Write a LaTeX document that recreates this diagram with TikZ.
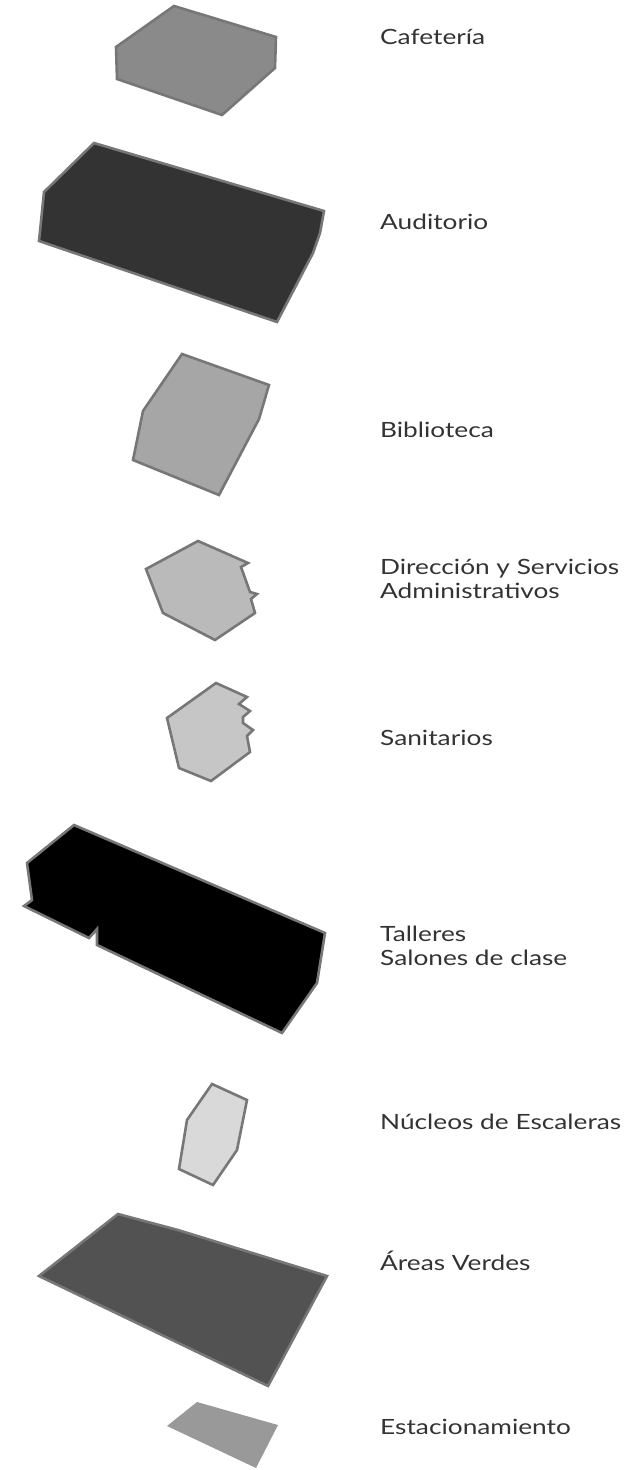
\documentclass[tikz,border=0pt]{standalone}
\usepackage{fontspec}
\setmainfont[FakeStretch=1.25]{Lato}
\definecolor{edge}{HTML}{777777}
\definecolor{txt}{HTML}{333333}
\definecolor{fcaf}{HTML}{8A8A8A}
\definecolor{faud}{HTML}{333333}
\definecolor{fbib}{HTML}{A6A6A6}
\definecolor{fdir}{HTML}{BABABA}
\definecolor{fsan}{HTML}{C6C6C6}
\definecolor{ftal}{HTML}{000000}
\definecolor{fnuc}{HTML}{D9D9D9}
\definecolor{fver}{HTML}{525252}
\definecolor{fest}{HTML}{999999}
\begin{document}
\begin{tikzpicture}[x=1pt,y=-1pt,
  blk/.style={draw=edge, line width=2.6pt, line join=miter},
  lbl/.style={anchor=west, align=left, font=\fontsize{21}{24}\selectfont, text=txt, inner sep=0pt}]
\useasboundingbox (0,0) rectangle (634,1470);
% Cafeteria
\filldraw[blk, fill=fcaf] (116,47) -- (174,6) -- (276,37) -- (275,68) -- (222,115) -- (117,79) -- cycle;
% Auditorio
\filldraw[blk, fill=faud] (94,143) -- (324,211) -- (320,233) -- (313,253) -- (277,322) -- (39,241) -- (44,192) -- cycle;
% Biblioteca
\filldraw[blk, fill=fbib] (182,354) -- (269,385) -- (259,419) -- (219,495) -- (133,460) -- (143,411) -- cycle;
% Direccion
\filldraw[blk, fill=fdir] (146,569) -- (198,541) -- (248,563) -- (241,567) -- (250,592) -- (257,594) -- (251,599) -- (255,613) -- (215,640) -- (163,613) -- cycle;
% Sanitarios
\filldraw[blk, fill=fsan] (167,718) -- (216,683) -- (247,697) -- (239,704) -- (250,711) -- (243,717) -- (243,723) -- (253,730) -- (247,736) -- (250,752) -- (211,781) -- (179,768) -- cycle;
% Talleres
\filldraw[blk, fill=ftal] (74,825) -- (325,933) -- (317,983) -- (282,1033) -- (97,945) -- (97,929) -- (89,938) -- (24,906) -- (32,900) -- (27,863) -- cycle;
% Nucleos
\filldraw[blk, fill=fnuc] (212,1084) -- (247,1100) -- (237,1150) -- (213,1185) -- (179,1169) -- (187,1120) -- cycle;
% Areas verdes
\filldraw[blk, fill=fver] (118,1214) -- (178,1230) -- (327,1276) -- (268,1386) -- (39,1276) -- cycle;
% Estacionamiento
\fill[fest] (197,1402) -- (278,1425) -- (256,1468) -- (167,1426) -- cycle;
% Labels
\node[lbl] (lcaf) at (380,37) {Cafetería};
\node[lbl] (laud) at (380,222) {Auditorio};
\node[lbl] (lbib) at (380,430) {Biblioteca};
\node[lbl] (ldir) at (380,579) {Dirección y Servicios\\Administrativos};
\node[lbl] (lsan) at (380,738) {Sanitarios};
\node[lbl] (ltal) at (380,946) {Talleres\\Salones de clase};
\node[lbl] (lnuc) at (380,1122) {Núcleos de Escaleras};
\node[lbl] (lver) at (380,1261) {Áreas Verdes};
\node[lbl] (lest) at (380,1427) {Estacionamiento};
\end{tikzpicture}
\end{document}
